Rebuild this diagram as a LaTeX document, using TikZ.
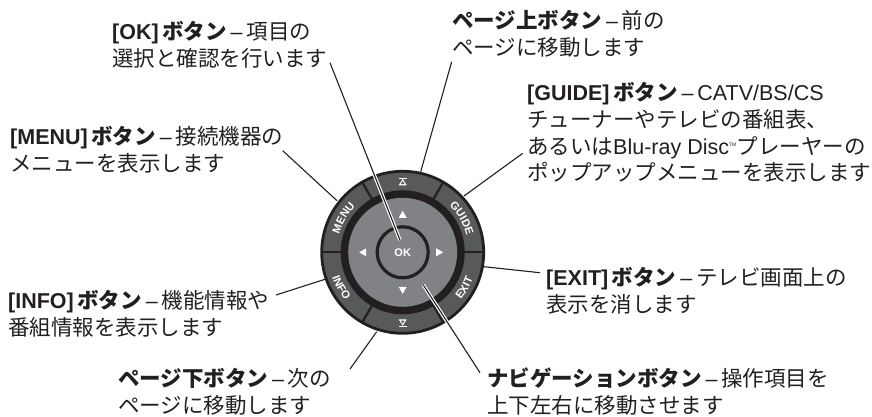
\documentclass[tikz,border=0pt]{standalone}
\usepackage{fontspec}
\usetikzlibrary{decorations.text,calc}
\setmainfont{Liberation Sans}
\newfontfamily\jpf{Noto Sans CJK JP}
\newcommand{\J}[1]{{\jpf #1}}
\newcommand{\B}[1]{{\bfseries #1}}
\newcommand{\Dsh}{\hspace{0.18em}--\hspace{0.18em}}
\definecolor{ringgrey}{HTML}{58595B}
\definecolor{padgrey}{HTML}{808285}
\definecolor{ink}{HTML}{231F20}
\tikzset{
  callout/.style={anchor=north west,inner sep=0pt,align=left,text=ink,font=\fontsize{21.5}{26.8}\selectfont},
  leader/.style={draw=ink,line width=1.1pt},
  halo/.style={draw=white,line width=3.4pt},
  seam/.style={draw=ink,line width=2.2pt},
  glyph/.style={fill=white,draw=none},
  dialtext/.style={inner sep=0pt,text=white,font=\fontsize{11}{12}\selectfont\bfseries}
}
\begin{document}
\begin{tikzpicture}[x=1pt,y=1pt]
\useasboundingbox (0,0) rectangle (872,-416);
% callouts
\node[callout] (ok) at (112,-21) {\B{[OK]}\,\B{\J{ボタン}}\Dsh\J{項目の}\\\J{選択と確認を行います}};
\node[callout] (up) at (452,-10) {\B{\J{ページ上ボタン}}\Dsh\J{前の}\\\J{ページに移動します}};
\node[callout] (guide) at (527,-82) {\B{[GUIDE]}\,\B{\J{ボタン}}\Dsh CATV/BS/CS\\\J{チューナーやテレビの番組表、}\\\J{あるいは}Blu-ray Disc\textsuperscript{\tiny TM}\J{プレーヤーの}\\\J{ポップアップメニューを表示します}};
\node[callout] (menu) at (10,-126) {\B{[MENU]}\,\B{\J{ボタン}}\Dsh\J{接続機器の}\\\J{メニューを表示します}};
\node[callout] (info) at (8,-290) {\B{[INFO]}\,\B{\J{ボタン}}\Dsh\J{機能情報や}\\\J{番組情報を表示します}};
\node[callout] (exit) at (546,-267) {\B{[EXIT]}\,\B{\J{ボタン}}\Dsh\J{テレビ画面上の}\\\J{表示を消します}};
\node[callout] (down) at (118,-368) {\B{\J{ページ下ボタン}}\Dsh\J{次の}\\\J{ページに移動します}};
\node[callout] (nav) at (487,-368) {\B{\J{ナビゲーションボタン}}\Dsh\J{操作項目を}\\\J{上下左右に移動させます}};
% dial
\begin{scope}[shift={(402.7,-252.3)}]
  \fill[ringgrey,draw=ink,line width=2.8pt] (0,0) circle (81);
  \foreach \a in {0,60,120,180,240,300} \draw[seam] (\a:60) -- (\a:81);
  \fill[ink] (0,0) circle (62);
  \fill[padgrey] (0,0) circle (54.5);
  \draw[ink,line width=3.2pt,fill=padgrey] (0,0) circle (25.5);
  \node[dialtext] (oklabel) at (0,0) {OK};
  % pad arrows
  \fill[glyph] (0,41.5) -- (-4,34.5) -- (4,34.5) -- cycle;
  \fill[glyph] (0,-41.5) -- (-4,-34.5) -- (4,-34.5) -- cycle;
  \fill[glyph] (-43.5,0) -- (-36.5,-4) -- (-36.5,4) -- cycle;
  \fill[glyph] (40.5,0) -- (33.5,-4) -- (33.5,4) -- cycle;
  % page arrows
  \begin{scope}[shift={(0,70.5)}]
    \fill[glyph] (0,3) -- (-4,-3.5) -- (4,-3.5) -- cycle;
    \fill[ringgrey] (0,0.8) -- (-1.8,-2.2) -- (1.8,-2.2) -- cycle;
    \fill[glyph] (-4,3) rectangle (4,4.2);
  \end{scope}
  \begin{scope}[shift={(0,-70.5)}]
    \fill[glyph] (0,-3) -- (-4,3.5) -- (4,3.5) -- cycle;
    \fill[ringgrey] (0,-0.8) -- (-1.8,2.2) -- (1.8,2.2) -- cycle;
    \fill[glyph] (-4,-3) rectangle (4,-4.2);
  \end{scope}
  % ring labels
  \path[postaction={decorate},decoration={text along path,text align=center,text color=white,
     text={|\fontsize{11}{12}\selectfont\bfseries|GUIDE}}] (60:66) arc (60:0:66);
  \path[postaction={decorate},decoration={text along path,text align=center,text color=white,
     text={|\fontsize{11}{12}\selectfont\bfseries|MENU}}] (180:66) arc (180:120:66);
  \path[postaction={decorate},decoration={text along path,text align=center,text color=white,
     text={|\fontsize{11}{12}\selectfont\bfseries|EXIT}}] (-60:75) arc (-60:0:75);
  \path[postaction={decorate},decoration={text along path,text align=center,text color=white,
     text={|\fontsize{11}{12}\selectfont\bfseries|INFO}}] (180:75) arc (180:240:75);
\end{scope}
% leader ends
\coordinate (okS) at (330,-62.7);
\coordinate (okE) at (400,-240);
\coordinate (upS) at (451.7,-61.7);
\coordinate (upE) at (420.7,-171.7);
\coordinate (guS) at (522.7,-153.3);
\coordinate (guE) at (464,-196);
\coordinate (meS) at (282.7,-150.7);
\coordinate (meE) at (337,-200.7);
\coordinate (exS) at (540,-272.7);
\coordinate (exE) at (484,-266.7);
\coordinate (inS) at (276,-295);
\coordinate (inE) at (325,-279.3);
\coordinate (dnS) at (350,-369);
\coordinate (dnE) at (376.7,-331.7);
\coordinate (naS) at (480,-372.7);
\coordinate (naE) at (423.3,-285);
\draw[halo] ($(okS)!0.4!(okE)$) -- (okE);
\draw[halo] ($(naS)!0.35!(naE)$) -- (naE);
\draw[leader] (okS) -- (okE);
\draw[leader] (upS) -- (upE);
\draw[leader] (guS) -- (guE);
\draw[leader] (meS) -- (meE);
\draw[leader] (exS) -- (exE);
\draw[leader] (inS) -- (inE);
\draw[leader] (dnS) -- (dnE);
\draw[leader] (naS) -- (naE);
\end{tikzpicture}
\end{document}
